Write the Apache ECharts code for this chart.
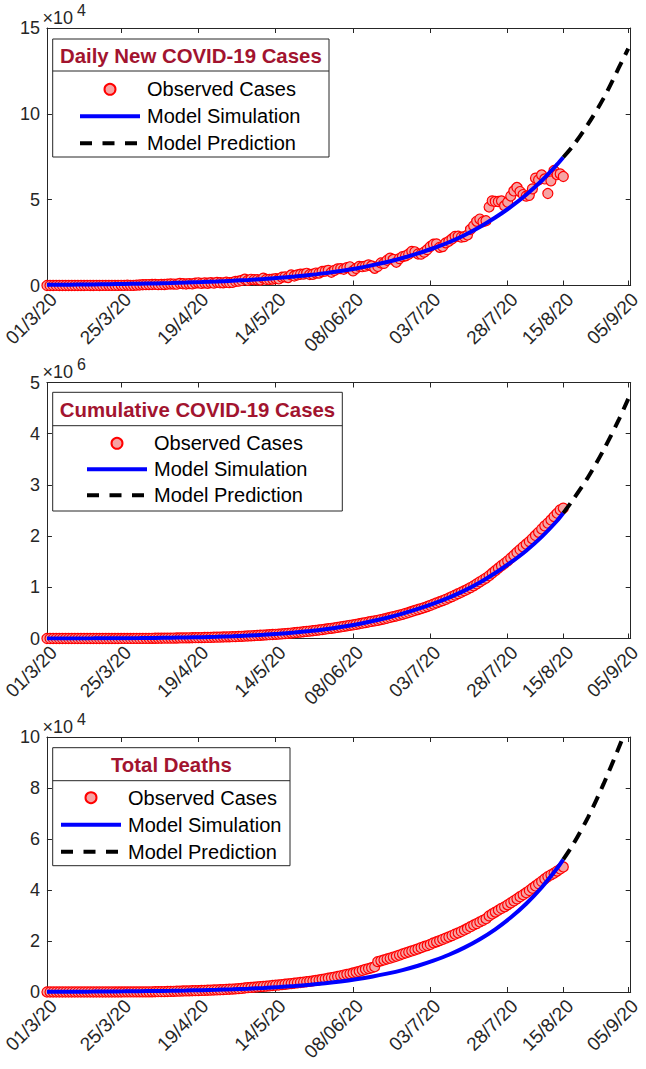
<!DOCTYPE html>
<html><head><meta charset="utf-8">
<script src="https://cdn.jsdelivr.net/npm/echarts@6/dist/echarts.min.js"></script>
<style>html,body{margin:0;padding:0;background:#fff}#c{width:646px;height:1069px}</style>
</head><body><div id="c"></div><script>
// ---- tick labels (x axis: day index since 01/3/20) ----
const tickDays = [0, 24, 49, 74, 99, 124, 149, 167, 188];
const tickLabels = ['01/3/20','25/3/20','19/4/20','14/5/20','08/06/20','03/7/20','28/7/20','15/8/20','05/9/20'];

// ---- observed data, one value per day from 01/3/20 to 15/8/20 ----
const dailyObserved = [
  0,2,1,22,2,1,3,5,4,13,6,11,9,20,11,6,23,14,38,50,86,66,103,37,121,70,160,100,82,217,302,
  437,486,560,579,609,484,573,565,813,871,854,758,1243,1031,886,1061,922,1371,1580,1239,1537,1292,1667,1408,1835,1607,1568,1902,1705,1801,
  2396,2564,2952,3656,2971,3602,3344,3339,3175,4311,3592,3562,3726,3991,3808,4794,5050,4628,6147,5553,6198,6568,6629,7111,6414,6535,7246,7254,8138,8364,8789,
  7723,8812,9689,9847,9472,10408,10882,8536,9981,11156,10956,11306,12039,11374,10032,11086,13108,12881,14721,15915,15183,13540,15656,16868,17296,18255,19906,19620,18339,18256,
  19429,20903,22718,24018,24248,22252,22687,24879,25790,27114,28637,28701,28178,28498,29429,32682,34820,37407,38697,37148,37724,45720,49310,49001,48916,49251,46484,48513,52123,55078,57118,
  54736,52972,52050,52509,56282,62538,61537,64399,62064,53601,60963,66999,64553,65002,63490
];
const cumulativeObserved = [
  3,5,6,28,30,31,34,39,43,56,62,73,82,102,113,119,142,156,194,244,330,396,499,536,657,727,887,987,1069,1286,1588,
  2025,2511,3071,3650,4259,4743,5316,5881,6694,7565,8419,9177,10420,11451,12337,13398,14320,15691,17271,18510,20047,21339,23006,24414,26249,27856,29424,31326,33031,34832,
  37228,39792,42744,46400,49371,52973,56317,59656,62831,67142,70734,74296,78022,82013,85821,90615,95665,100293,106440,111993,118191,124759,131388,138499,144913,151448,158694,165948,174086,182450,191239,
  198962,207774,217463,227310,236782,247190,258072,266608,276589,287745,298701,310007,322046,333420,343452,354538,367646,380527,395248,411163,426346,439886,455542,472410,489706,507961,527867,547487,565826,584082,
  603511,624414,647132,671150,695398,717650,740337,765216,791006,818120,846757,875458,903636,932134,961563,994245,1029065,1066472,1105169,1142317,1180041,1225761,1275071,1324072,1372988,1422239,1468723,1517236,1569359,1624437,1681555,
  1736291,1789263,1841313,1893822,1950104,2012642,2074179,2138578,2200642,2254243,2315206,2382205,2446758,2511760,2545250
];
const deathsObserved = [
  0,0,0,0,0,0,0,0,0,0,1,1,2,2,2,2,3,3,4,4,4,7,9,10,11,13,19,24,27,32,35,
  41,56,62,83,109,124,149,169,206,242,273,324,353,392,420,452,488,519,559,603,652,686,723,779,826,886,937,1008,1079,1152,
  1223,1323,1391,1568,1694,1783,1886,1981,2109,2206,2293,2415,2549,2649,2752,2872,3029,3163,3303,3435,3583,3720,3867,4021,4167,4337,4531,4706,4971,5164,5394,
  5598,5815,6075,6348,6642,6929,7135,7466,7745,8102,8498,8884,9195,9520,9900,11903,12237,12573,12948,13254,13699,14011,14476,14894,15301,15685,16095,16475,16893,17400,
  17834,18213,18655,19268,19693,20160,20642,21129,21604,22123,22674,23174,23727,24309,24915,25602,26273,26816,27497,28082,28732,29861,30601,31358,32063,32771,33408,34193,34968,35747,36511,
  37364,38135,38938,39795,40699,41585,42518,43379,44386,45257,45914,46591,47433,48240,49036
];

// ---- model simulation (fitted curve) ----
const modelDays = [0,5,10,15,20,25,30,35,40,45,50,55,60,65,70,75,80,85,90,95,100,105,110,115,120,125,130,135,140,145,150,155,160,165,167];
const dailyModel = [400,470,550,650,760,890,1050,1230,1450,1700,2000,2350,2750,3250,3800,4450,5200,6100,7200,8400,9900,11700,13700,16000,18700,21700,25200,29300,34100,39600,45800,52900,61000,70500,74700];
const cumulativeModel = [0,800,1700,2800,4200,6000,8300,11300,15200,20000,26000,34000,44000,57000,73000,93000,117000,146000,181000,224000,275000,336000,406000,487000,578000,681000,798000,935000,1094000,1279000,1485000,1715000,1985000,2300000,2450000];
const deathsModel = [80,100,130,165,205,255,315,390,480,590,720,880,1080,1320,1600,1950,2350,2850,3450,4150,5000,6000,7200,8600,10300,12300,14600,17400,20700,24600,29200,34600,41000,48500,52000];

// ---- model prediction ----
const predDays = [167,170,175,180,185,188];
const dailyPred = [74700,81000,94000,109000,127000,138000];
const cumulativePred = [2450000,2700000,3150000,3680000,4280000,4680000];
const deathsPred = [52000,57500,68500,81500,96000,105000];

// ---- panel titles ----
const panelTitles = ['Daily New COVID-19 Cases','Cumulative COVID-19 Cases','Total Deaths'];
const legendNames = ['Observed Cases','Model Simulation','Model Prediction'];

const FONT = '"Liberation Sans", Arial, Helvetica, sans-serif';
const AX = '#262626';

const grids = [
  {left: 41.7, top: 28, width: 589, height: 257.5},
  {left: 41.7, top: 382.5, width: 589, height: 256},
  {left: 41.7, top: 737, width: 589, height: 255}
];
const yCfg = [
  {max: 150000, interval: 50000, scale: 1e4, exp: '4'},
  {max: 5000000, interval: 1000000, scale: 1e6, exp: '6'},
  {max: 100000, interval: 20000, scale: 1e4, exp: '4'}
];

const xAxes = [], yAxes = [];
grids.forEach((g, gi) => {
  const baseX = {
    type: 'value', gridIndex: gi, min: 0, max: 188.8,
    axisLine: {show: true, onZero: false, lineStyle: {color: AX, width: 1}},
    axisTick: {show: true, inside: true, length: 5, customValues: tickDays, lineStyle: {color: AX, width: 1}},
    splitLine: {show: false}
  };
  xAxes.push(Object.assign({}, baseX, {
    position: 'bottom',
    axisLabel: {show: true, customValues: tickDays, rotate: 45, align: 'right', verticalAlign: 'top', margin: 4,
      fontSize: 19, color: AX, fontFamily: FONT,
      formatter: v => tickLabels[tickDays.indexOf(Math.round(v))]}
  }));
  xAxes.push(Object.assign({}, baseX, {position: 'top', axisLabel: {show: false}}));
  const c = yCfg[gi];
  const baseY = {
    type: 'value', gridIndex: gi, min: 0, max: c.max, interval: c.interval,
    axisLine: {show: true, onZero: false, lineStyle: {color: AX, width: 1}},
    axisTick: {show: true, inside: true, length: 5, lineStyle: {color: AX, width: 1}},
    splitLine: {show: false}
  };
  yAxes.push(Object.assign({}, baseY, {
    position: 'left',
    axisLabel: {show: true, margin: 7, fontSize: 18, color: AX, fontFamily: FONT, formatter: v => String(Math.round(v / c.scale))}
  }));
  yAxes.push(Object.assign({}, baseY, {position: 'right', axisLabel: {show: false}}));
});

const obsSets = [dailyObserved, cumulativeObserved, deathsObserved];
const modelSets = [dailyModel, cumulativeModel, deathsModel];
const predSets = [dailyPred, cumulativePred, deathsPred];

const series = [];
for (let gi = 0; gi < 3; gi++) {
  series.push({
    name: legendNames[0], type: 'scatter', xAxisIndex: gi * 2, yAxisIndex: gi * 2,
    data: obsSets[gi].map((v, i) => [i, v]), symbol: 'circle', symbolSize: 10,
    itemStyle: {color: '#F6A3A3', borderColor: '#FF0000', borderWidth: 1.2, opacity: 1}, z: 2
  });
  series.push({
    name: legendNames[1], type: 'line', xAxisIndex: gi * 2, yAxisIndex: gi * 2,
    data: modelDays.map((d, i) => [d, modelSets[gi][i]]), symbol: 'none', smooth: 0.3,
    lineStyle: {color: '#0000FF', width: 4}, itemStyle: {color: '#0000FF'}, z: 3
  });
  series.push({
    name: legendNames[2], type: 'line', xAxisIndex: gi * 2, yAxisIndex: gi * 2,
    data: predDays.map((d, i) => [d, predSets[gi][i]]), symbol: 'none', smooth: 0.3,
    lineStyle: {color: '#000000', width: 4, type: [12, 8]}, itemStyle: {color: '#000000'}, z: 4
  });
}

const legendPos = [
  {left: 78, top: 79.3, gap: 7},
  {left: 85, top: 433.3, gap: 6},
  {left: 59, top: 787.7, gap: 7}
];
const legends = legendPos.map(p => ({
  orient: 'vertical', left: p.left, top: p.top, itemWidth: 60, itemHeight: 11, itemGap: p.gap,
  padding: 0, selectedMode: false, z: 6,
  textStyle: {fontSize: 20, color: '#000', fontFamily: FONT, padding: [0, 0, 0, 2]},
  data: [
    {name: legendNames[0]},
    {name: legendNames[1], itemStyle: {opacity: 0}, lineStyle: {width: 4, color: '#0000FF'}},
    {name: legendNames[2], itemStyle: {opacity: 0}, lineStyle: {width: 4, color: '#000000', type: [12, 10.5]}}
  ]
}));

const frames = [
  {x: 52.7, y: 39, w: 276.3, h: 118, sep: 71},
  {x: 52.7, y: 392.3, w: 289.6, h: 118.7, sep: 425.7},
  {x: 52.7, y: 747.7, w: 237.3, h: 118, sep: 780.7}
];
const graphics = [];
frames.forEach((f, gi) => {
  graphics.push({type: 'rect', z: 5, shape: {x: f.x, y: f.y, width: f.w, height: f.h}, style: {fill: '#fff', stroke: AX, lineWidth: 1}});
  graphics.push({type: 'line', z: 5, shape: {x1: f.x, y1: f.sep, x2: f.x + f.w, y2: f.sep}, style: {stroke: AX, lineWidth: 1}});
  graphics.push({type: 'text', z: 6, style: {text: panelTitles[gi], x: f.x + f.w / 2, y: (f.y + f.sep) / 2 + 0.5,
    fill: '#A2142F', font: 'bold 20.4px ' + FONT, textAlign: 'center', textVerticalAlign: 'middle'}});
  const top = grids[gi].top;
  graphics.push({type: 'text', z: 6, style: {text: '\u00d710', x: 42.5, y: top - 10.5, fill: AX, font: '18px ' + FONT, textAlign: 'left', textVerticalAlign: 'middle'}});
  graphics.push({type: 'text', z: 6, style: {text: yCfg[gi].exp, x: 77, y: top - 18, fill: AX, font: '16px ' + FONT, textAlign: 'left', textVerticalAlign: 'middle'}});
});

const chart = echarts.init(document.getElementById('c'), null, {renderer: 'svg', width: 646, height: 1069});
chart.setOption({
  animation: false,
  backgroundColor: '#fff',
  grid: grids,
  xAxis: xAxes,
  yAxis: yAxes,
  legend: legends,
  graphic: {elements: graphics},
  series: series
});
</script></body></html>
